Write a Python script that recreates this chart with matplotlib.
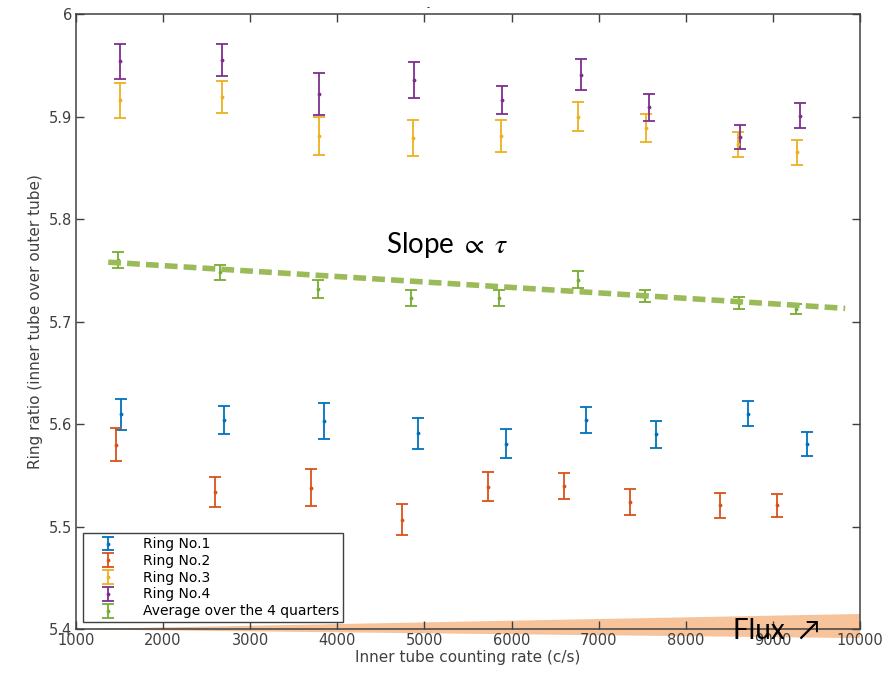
import matplotlib.pyplot as plt
from matplotlib.patches import Polygon

# MATLAB default colours
C_BLUE = '#0072BD'
C_ORANGE = '#D95319'
C_YELLOW = '#EDB120'
C_PURPLE = '#7E2F8E'
C_GREEN = '#77AC30'
FIT_COLOR = '#9BBB59'
WEDGE_COLOR = '#F7C39B'
AX_COLOR = '#404040'

# Data
ring1_x = [1517, 2699, 3844, 4927, 5937, 6855, 7659, 8712, 9389]
ring1_y = [5.6095, 5.604, 5.603, 5.591, 5.581, 5.604, 5.590, 5.610, 5.581]
ring1_e = [0.0155, 0.0138, 0.0177, 0.0148, 0.014, 0.0124, 0.0129, 0.0122, 0.0117]

ring2_x = [1459, 2596, 3695, 4743, 5727, 6603, 7364, 8390, 9052]
ring2_y = [5.580, 5.534, 5.538, 5.507, 5.539, 5.540, 5.524, 5.521, 5.521]
ring2_e = [0.016, 0.0148, 0.018, 0.0151, 0.014, 0.0128, 0.0128, 0.012, 0.0112]

ring3_x = [1502, 2673, 3793, 4866, 5879, 6767, 7544, 8600, 9274]
ring3_y = [5.916, 5.919, 5.881, 5.879, 5.881, 5.900, 5.889, 5.873, 5.865]
ring3_e = [0.017, 0.0154, 0.0182, 0.0177, 0.016, 0.0138, 0.0138, 0.0122, 0.0124]

ring4_x = [1502, 2673, 3793, 4881, 5894, 6798, 7575, 8627, 9316]
ring4_y = [5.954, 5.955, 5.922, 5.936, 5.916, 5.941, 5.909, 5.880, 5.901]
ring4_e = [0.0169, 0.0156, 0.0205, 0.0176, 0.014, 0.0154, 0.0133, 0.0115, 0.0124]

avg_x = [1486, 2657, 3782, 4846, 5856, 6763, 7532, 8612, 9266]
avg_y = [5.760, 5.748, 5.732, 5.723, 5.723, 5.741, 5.725, 5.718, 5.712]
avg_e = [0.008, 0.007, 0.009, 0.008, 0.008, 0.008, 0.006, 0.006, 0.005]

fit_x = [1370, 9830]
fit_y = [5.758, 5.713]

series = [
    (ring1_x, ring1_y, ring1_e, C_BLUE, 'Ring No.1'),
    (ring2_x, ring2_y, ring2_e, C_ORANGE, 'Ring No.2'),
    (ring3_x, ring3_y, ring3_e, C_YELLOW, 'Ring No.3'),
    (ring4_x, ring4_y, ring4_e, C_PURPLE, 'Ring No.4'),
    (avg_x, avg_y, avg_e, C_GREEN, 'Average over the 4 quarters'),
]

plt.rcParams['mathtext.fontset'] = 'stix'

fig = plt.figure(figsize=(8.87, 6.77), dpi=100)
fig.patch.set_facecolor('white')
ax = fig.add_axes([76 / 887, 1 - 629.3 / 677, 784 / 887, 615.3 / 677])

# Flux wedge under the x axis
wedge = Polygon([(-0.012, 0.0), (1.0, 0.0249), (1.0, -0.0143)], closed=True,
                transform=ax.transAxes, facecolor=WEDGE_COLOR, edgecolor='none',
                clip_on=False, zorder=0.5)
ax.add_patch(wedge)

for xs, ys, es, col, lab in series:
    ax.errorbar(xs, ys, yerr=es, fmt='.', color=col, ecolor=col, markersize=3.5,
                elinewidth=1.3, capsize=4.5, capthick=1.3, label=lab, zorder=3)

ax.plot(fit_x, fit_y, color=FIT_COLOR, lw=4.0, dashes=(2.3, 1.1), zorder=4)

ax.set_xlim(1000, 10000)
ax.set_ylim(5.4, 6.0)
ax.set_xticks(range(1000, 10001, 1000))
ax.set_yticks([5.4, 5.5, 5.6, 5.7, 5.8, 5.9, 6.0])
ax.set_yticklabels(['5.4', '5.5', '5.6', '5.7', '5.8', '5.9', '6'])
ax.tick_params(direction='in', length=6, width=1, colors=AX_COLOR, labelsize=10.5,
               top=True, right=True, pad=3)
for spine in ax.spines.values():
    spine.set_color(AX_COLOR)
    spine.set_linewidth(1.1)
    spine.set_zorder(5)

ax.set_xlabel('Inner tube counting rate (c/s)', fontsize=11, color=AX_COLOR, labelpad=1)
ax.set_ylabel('Ring ratio (inner tube over outer tube)', fontsize=11, color=AX_COLOR, labelpad=4)

leg = ax.legend(loc='lower left', fontsize=10, fancybox=False, edgecolor=AX_COLOR,
                borderaxespad=0.5, handlelength=3.0, handletextpad=1.0, handleheight=0.55,
                labelspacing=0.2, borderpad=0.3, framealpha=1)
leg.get_frame().set_linewidth(1.0)

ax.text(0.473, 0.625, r'Slope $\propto$ $\tau$', transform=ax.transAxes, fontsize=20,
        family=['Lato', 'DejaVu Sans'], ha='center', va='center', color='black', zorder=6)
fig.text(776 / 887, 1 - 631 / 677, 'Flux  \u2197', fontsize=20, family=['Lato', 'DejaVu Sans'],
         ha='center', va='center', color='black', zorder=6)
fig.text(428 / 887, 1 - 8 / 677, '-', fontsize=6, ha='center', va='center', color='black')

fig.savefig('out.png', dpi=100, facecolor='white')
